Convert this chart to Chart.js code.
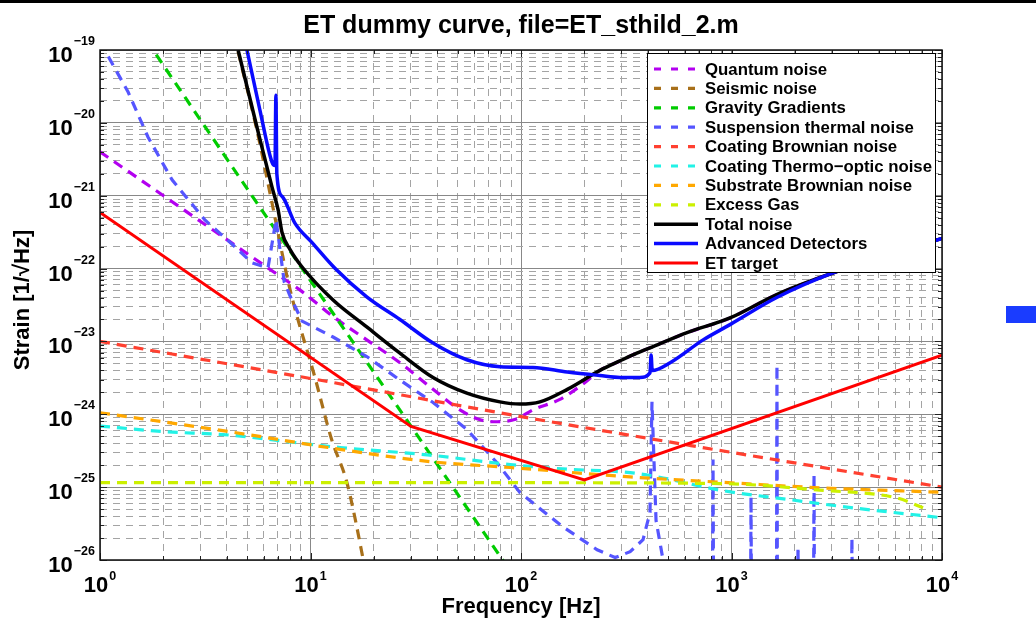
<!DOCTYPE html>
<html>
<head>
<meta charset="utf-8">
<title>ET dummy curve</title>
<script src="https://cdn.jsdelivr.net/npm/chart.js@4.4.1/dist/chart.umd.min.js"></script>
<style>
  html, body { margin: 0; padding: 0; background: #fff; }
  #wrap { position: relative; width: 1036px; height: 628px; }
  #topRule { position: absolute; left: 0; top: 0; width: 1036px; height: 3px; background: #000; }
  #sideTab { position: absolute; left: 1006px; top: 306px; width: 30px; height: 17px; background: #1a3cff; }
</style>
</head>
<body>
<div id="wrap">
  <canvas id="chart"></canvas>
  <div id="topRule"></div>
  <div id="sideTab"></div>
</div>
<script>
// axis decades and exponent labels
const xDecades = [1, 10, 100, 1000, 10000];
const xExponents = ['0', '1', '2', '3', '4'];
const yDecades = [1e-26, 1e-25, 1e-24, 1e-23, 1e-22, 1e-21, 1e-20, 1e-19];
const yExponents = ['\u221226', '\u221225', '\u221224', '\u221223', '\u221222', '\u221221', '\u221220', '\u221219'];

// noise curves (frequency in Hz, strain in 1/sqrt(Hz))
const quantumFreq   = [1, 6.8, 8.9, 12.8, 18.5, 26.6, 38.2, 51.3, 64, 77, 95, 114, 153, 197, 237, 295, 355, 424, 615, 984, 1640, 3030, 10000];
const quantumStrain = [4.0e-21, 8.7e-23, 5.1e-23, 2.2e-23, 1.05e-23, 5.1e-24, 2.2e-24, 1.15e-24, 8.4e-25, 7.9e-25, 8.6e-25, 1.15e-24, 1.6e-24, 2.6e-24, 4.0e-24, 5.4e-24, 6.9e-24, 8.5e-24, 1.32e-23, 2.1e-23, 4.4e-23, 8.7e-23, 2.6e-22];

const seismicFreq   = [4.53, 5.62, 6.56, 8.0, 10.5, 12.6, 14.9, 17.7, 18.6];
const seismicStrain = [9.5e-20, 7.0e-21, 8.0e-22, 5.1e-23, 3.2e-24, 4.5e-25, 1.15e-25, 1.1e-26, 5e-27];

const gravityFreq   = [1.5, 5.45, 28.7, 89];
const gravityStrain = [2.1e-19, 8.7e-22, 8.3e-25, 7e-27];

const suspensionFreq   = [1, 1.36, 1.69, 2.2, 3.15, 4.38, 5.27, 6.28, 6.86, 7.5, 8.0, 9.12, 12.8, 18.5, 26.6, 38.2, 55.3, 76.9, 98.9, 158, 230, 280, 330, 380, 410, 419, 438, 473, 510,
                          812, 817, 822, 1232, 1238, 1244, 1636, 1644, 1652, 2060, 2070, 2080, 2454, 2466, 2478, 3715, 3733, 3751];
const suspensionStrain = [1.3e-19, 2.65e-20, 6.4e-21, 1.65e-21, 4.65e-22, 1.99e-22, 1.2e-22, 1.02e-22, 4.7e-22, 6.6e-23, 4.2e-23, 1.9e-23, 1.15e-23, 6.2e-24, 2.95e-24, 1.45e-24, 6.2e-25, 2.16e-25, 8.4e-26, 2.86e-26, 1.38e-26, 1.08e-26, 1.3e-26, 1.9e-26, 4.5e-26, 1.48e-24, 3.5e-26, 1.0e-26, 3.9e-27,
                          3e-27, 2.4e-25, 3e-27, 3e-27, 7.4e-26, 3e-27, 3e-27, 4.8e-24, 3e-27, 3e-27, 1.5e-26, 3e-27, 3e-27, 1.5e-25, 3e-27, 3e-27, 2.0e-26, 3e-27];

const coatingFreq   = [1, 10, 100, 1000, 10000];
const coatingStrain = [1.0e-23, 3.1e-24, 9.3e-25, 3.0e-25, 1.0e-25];

const thermoFreq   = [1, 1.97, 4.06, 8.4, 13.8, 37, 89, 158, 330, 450, 880, 1840, 3780, 10000];
const thermoStrain = [6.9e-25, 5.8e-25, 5.2e-25, 4.1e-25, 3.5e-25, 2.75e-25, 2.04e-25, 1.78e-25, 1.58e-25, 1.38e-25, 9.1e-26, 6.8e-26, 5.2e-26, 3.8e-26];

const substrateFreq   = [1, 2.83, 5.9, 12.1, 37, 89, 330, 880, 2630, 10000];
const substrateStrain = [1.05e-24, 6.8e-25, 4.9e-25, 3.5e-25, 2.24e-25, 1.86e-25, 1.38e-25, 1.17e-25, 9.8e-26, 8.5e-26];

const gasFreq   = [1, 100, 880, 2630, 6100, 8130];
const gasStrain = [1.15e-25, 1.15e-25, 1.12e-25, 9.1e-26, 7.1e-26, 5.2e-26];

const totalFreq   = [4.53, 5.62, 6.56, 7.01, 7.33, 8.0, 9.12, 12.8, 18.5, 26.6, 38.2, 55.3, 79.4, 98.9, 123, 166, 237, 295, 355, 424, 615, 984, 1640, 3030, 10000];
const totalStrain = [1.0e-19, 7.8e-21, 1.32e-21, 6.5e-22, 3.1e-22, 1.82e-22, 1.05e-22, 3.7e-23, 1.58e-23, 6.9e-24, 3.2e-24, 1.95e-24, 1.48e-24, 1.38e-24, 1.48e-24, 2.2e-24, 4.0e-24, 5.4e-24, 6.9e-24, 8.5e-24, 1.32e-23, 2.1e-23, 4.4e-23, 8.7e-23, 2.6e-22];

const advancedFreq   = [4.99, 5.75, 6.56, 6.78, 6.85, 6.92, 7.33, 8.43, 10.2, 13.1, 18.5, 26.6, 38.2, 55.3, 79.4, 114, 166, 237, 295, 367, 410, 415, 420, 511, 733, 984, 1640, 3030, 10000];
const advancedStrain = [1.0e-19, 1.5e-20, 2.9e-21, 2.6e-21, 2.4e-20, 2.0e-21, 9.8e-22, 4.2e-22, 2.25e-22, 1.0e-22, 4.1e-23, 2.0e-23, 9.5e-24, 5.6e-24, 4.5e-24, 4.4e-24, 3.8e-24, 3.4e-24, 3.2e-24, 3.2e-24, 3.7e-24, 6.5e-24, 4.0e-24, 5.1e-24, 1.05e-23, 1.7e-23, 4.0e-23, 8.7e-23, 2.6e-22];

const etFreq   = [1, 30, 200, 10000];
const etStrain = [5.9e-22, 6.8e-25, 1.26e-25, 6.5e-24];

const FONT = '"Liberation Sans", Arial, Helvetica, sans-serif';
const DASH = [10, 7];

function toPoints(freq, strain) {
  return freq.map((f, i) => ({ x: f, y: strain[i] }));
}

function series(label, freq, strain, color, dashed, smooth) {
  return {
    label: label,
    data: toPoints(freq, strain),
    borderColor: color,
    borderWidth: dashed ? 3.2 : 3.5,
    borderDash: dashed ? DASH : [],
    pointRadius: 0,
    fill: false,
    cubicInterpolationMode: smooth ? 'monotone' : 'default',
    tension: 0
  };
}

const datasets = [
  series('Quantum noise', quantumFreq, quantumStrain, '#b300f0', true, true),
  series('Seismic noise', seismicFreq, seismicStrain, '#a8701a', true, true),
  series('Gravity Gradients', gravityFreq, gravityStrain, '#00cc00', true, true),
  series('Suspension thermal noise', suspensionFreq, suspensionStrain, '#5555ff', true, false),
  series('Coating Brownian noise', coatingFreq, coatingStrain, '#ff4030', true, true),
  series('Coating Thermo\u2212optic noise', thermoFreq, thermoStrain, '#22f2e6', true, true),
  series('Substrate Brownian noise', substrateFreq, substrateStrain, '#ffa800', true, true),
  series('Excess Gas', gasFreq, gasStrain, '#ccf000', true, true),
  series('Total noise', totalFreq, totalStrain, '#000000', false, true),
  series('Advanced Detectors', advancedFreq, advancedStrain, '#0a0aff', false, true),
  series('ET target', etFreq, etStrain, '#ff0000', false, false)
];
datasets[10].borderWidth = 3;
// later curves are painted over earlier ones, as in the original
datasets.forEach((d, i) => { d.order = datasets.length - i; });

function decadeTicks(decades) {
  const ticks = [];
  decades.forEach((d, i) => {
    ticks.push({ value: d, major: true });
    if (i < decades.length - 1) {
      for (let m = 2; m <= 9; m++) ticks.push({ value: m * d, major: false });
    }
  });
  return ticks;
}

function gridOptions() {
  return {
    color: (c) => (c.tick && c.tick.major) ? '#888888' : '#a4a4a4',
    lineWidth: 1,
    drawTicks: false
  };
}

// frame, inner ticks, tick labels, titles and the boxed legend
const decorPlugin = {
  id: 'decor',
  afterDraw(chart) {
    const { ctx, chartArea: a, scales } = chart;
    const xs = scales.x, ys = scales.y;
    ctx.save();

    ctx.strokeStyle = '#222';
    ctx.lineWidth = 1;
    xs.ticks.forEach(t => {
      const px = Math.round(xs.getPixelForValue(t.value)) + 0.5;
      const len = t.major ? 7 : 4;
      ctx.beginPath();
      ctx.moveTo(px, a.bottom); ctx.lineTo(px, a.bottom - len);
      ctx.moveTo(px, a.top); ctx.lineTo(px, a.top + len);
      ctx.stroke();
    });
    ys.ticks.forEach(t => {
      const py = Math.round(ys.getPixelForValue(t.value)) + 0.5;
      const len = t.major ? 7 : 4;
      ctx.beginPath();
      ctx.moveTo(a.left, py); ctx.lineTo(a.left + len, py);
      ctx.moveTo(a.right, py); ctx.lineTo(a.right - len, py);
      ctx.stroke();
    });

    // legend box
    const lx = a.right - 295, ly = a.top + 3, lw = 288, lh = 219, row = 19.4;
    ctx.fillStyle = '#fff';
    ctx.fillRect(lx, ly, lw, lh);
    ctx.strokeStyle = '#000';
    ctx.lineWidth = 1;
    ctx.strokeRect(lx + 0.5, ly + 0.5, lw, lh);
    ctx.font = 'bold 16.8px ' + FONT;
    ctx.textBaseline = 'middle';
    ctx.textAlign = 'left';
    chart.data.datasets.forEach((d, i) => {
      const cy = ly + 16 + i * row;
      ctx.beginPath();
      ctx.strokeStyle = d.borderColor;
      ctx.lineWidth = d.borderWidth;
      ctx.setLineDash(d.borderDash.length ? [7, 10] : []);
      ctx.moveTo(lx + 7, cy);
      ctx.lineTo(lx + 51, cy);
      ctx.stroke();
      ctx.setLineDash([]);
      ctx.fillStyle = '#000';
      ctx.fillText(d.label, lx + 58, cy + 1);
    });

    // frame
    ctx.strokeStyle = '#111';
    ctx.lineWidth = 1.5;
    ctx.strokeRect(a.left, a.top, a.right - a.left, a.bottom - a.top);

    // tick labels with superscript exponents
    const baseFont = 'bold 22px ' + FONT, expFont = 'bold 12.5px ' + FONT;
    ctx.fillStyle = '#000';
    ctx.textBaseline = 'alphabetic';
    yDecades.forEach((v, i) => {
      const py = ys.getPixelForValue(v);
      ctx.font = expFont;
      const ew = ctx.measureText(yExponents[i]).width;
      ctx.textAlign = 'right';
      ctx.fillText(yExponents[i], a.left - 5, py - 5);
      ctx.font = baseFont;
      ctx.fillText('10', a.left - 5 - ew - 1, py + 12);
    });
    xDecades.forEach((v, i) => {
      const px = xs.getPixelForValue(v);
      ctx.font = baseFont;
      const w10 = ctx.measureText('10').width;
      ctx.font = expFont;
      const we = ctx.measureText(xExponents[i]).width;
      const start = px - (w10 + we + 1) / 2;
      ctx.textAlign = 'left';
      ctx.font = baseFont;
      ctx.fillText('10', start, a.bottom + 32);
      ctx.font = expFont;
      ctx.fillText(xExponents[i], start + w10 + 1, a.bottom + 19.5);
    });

    // titles
    const cx = (a.left + a.right) / 2;
    ctx.textAlign = 'center';
    ctx.textBaseline = 'alphabetic';
    ctx.font = 'bold 25px ' + FONT;
    ctx.fillText('ET dummy curve, file=ET_sthild_2.m', cx, 33);
    ctx.font = 'bold 22px ' + FONT;
    ctx.fillText('Frequency [Hz]', cx, a.bottom + 53);
    ctx.save();
    ctx.translate(29, 300);
    ctx.rotate(-Math.PI / 2);
    ctx.font = 'bold 22px ' + FONT;
    ctx.fillText('Strain [1/\u221AHz]', 0, 0);
    ctx.restore();

    ctx.restore();
  }
};

new Chart(document.getElementById('chart'), {
  type: 'line',
  data: { datasets: datasets },
  options: {
    responsive: true,
    maintainAspectRatio: false,
    animation: false,
    layout: { padding: { left: 100, right: 94, top: 50, bottom: 68 } },
    plugins: { legend: { display: false }, tooltip: { enabled: false }, title: { display: false } },
    scales: {
      x: {
        type: 'logarithmic',
        min: 1,
        max: 10000,
        afterBuildTicks: (scale) => { scale.ticks = decadeTicks(xDecades); },
        ticks: { display: false },
        grid: gridOptions(),
        border: { display: false, dash: (c) => (c.tick && !c.tick.major) ? [7, 6] : [] }
      },
      y: {
        type: 'logarithmic',
        min: 1e-26,
        max: 1e-19,
        afterBuildTicks: (scale) => { scale.ticks = decadeTicks(yDecades); },
        ticks: { display: false },
        grid: gridOptions(),
        border: { display: false, dash: (c) => (c.tick && !c.tick.major) ? [7, 6] : [] }
      }
    }
  },
  plugins: [decorPlugin]
});
</script>
</body>
</html>
